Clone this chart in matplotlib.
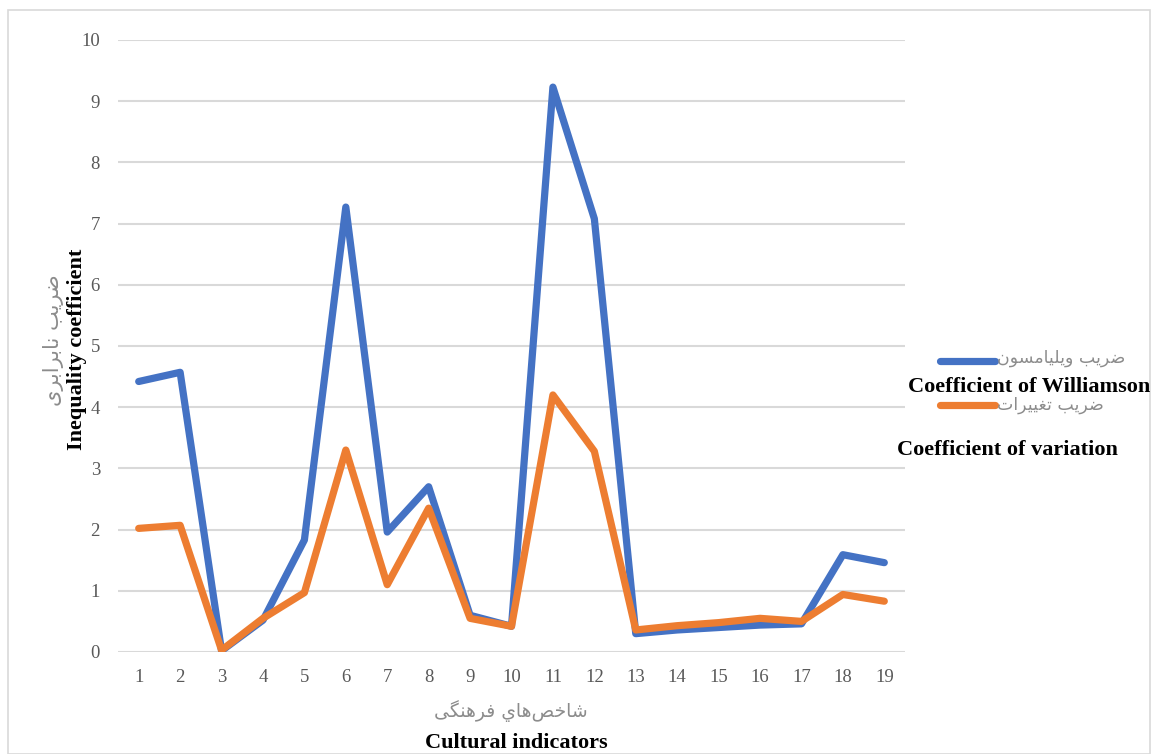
import numpy as np
import matplotlib
matplotlib.use("Agg")
import matplotlib.pyplot as plt
from matplotlib.lines import Line2D
from matplotlib.patches import Rectangle

# data
indicators = list(range(1, 20))
williamson = [4.42, 4.57, 0.02, 0.52, 1.83, 7.27, 1.96, 2.70, 0.60, 0.42,
              9.23, 7.08, 0.30, 0.36, 0.40, 0.44, 0.46, 1.59, 1.46]
variation = [2.02, 2.07, 0.03, 0.55, 0.97, 3.30, 1.10, 2.35, 0.55, 0.42,
             4.20, 3.28, 0.36, 0.43, 0.48, 0.55, 0.50, 0.94, 0.83]

label_williamson_fa = "ضریب ویلیامسون"
label_variation_fa = "ضریب تغییرات"
ylabel_fa = "ضریب نابرابری"
xlabel_fa = "شاخص\u200cهاي فرهنگی"

# minimal Persian shaping (matplotlib does no Arabic joining)
FORMS = {
    "ا": (0xFE8D, 0xFE8E), "ر": (0xFEAD, 0xFEAE), "و": (0xFEED, 0xFEEE),
    "ب": (0xFE8F, 0xFE90, 0xFE91, 0xFE92), "ت": (0xFE95, 0xFE96, 0xFE97, 0xFE98),
    "خ": (0xFEA5, 0xFEA6, 0xFEA7, 0xFEA8), "س": (0xFEB1, 0xFEB2, 0xFEB3, 0xFEB4),
    "ش": (0xFEB5, 0xFEB6, 0xFEB7, 0xFEB8), "ص": (0xFEB9, 0xFEBA, 0xFEBB, 0xFEBC),
    "ض": (0xFEBD, 0xFEBE, 0xFEBF, 0xFEC0), "غ": (0xFECD, 0xFECE, 0xFECF, 0xFED0),
    "ف": (0xFED1, 0xFED2, 0xFED3, 0xFED4), "ل": (0xFEDD, 0xFEDE, 0xFEDF, 0xFEE0),
    "م": (0xFEE1, 0xFEE2, 0xFEE3, 0xFEE4), "ن": (0xFEE5, 0xFEE6, 0xFEE7, 0xFEE8),
    "ه": (0xFEE9, 0xFEEA, 0xFEEB, 0xFEEC), "ي": (0xFEF1, 0xFEF2, 0xFEF3, 0xFEF4),
    "ی": (0xFBFC, 0xFBFD, 0xFBFE, 0xFBFF), "گ": (0xFB92, 0xFB93, 0xFB94, 0xFB95),
}


def shape_fa(text):
    out = []
    for i, ch in enumerate(text):
        f = FORMS.get(ch)
        if f is None:
            if ch != "\u200c":
                out.append(ch)
            continue
        prev = text[i - 1] if i > 0 else ""
        nxt = text[i + 1] if i + 1 < len(text) else ""
        jp = prev in FORMS and len(FORMS[prev]) == 4
        jn = len(f) == 4 and nxt in FORMS
        idx = 3 if (jp and jn) else 1 if jp else 2 if jn else 0
        out.append(chr(f[idx]))
    return "".join(out)[::-1]


blue = "#4472C4"
orange = "#ED7D31"
grey_txt = "#595959"
fa_col = "#8c8c8c"
serif = "Liberation Serif"

fig = plt.figure(figsize=(11.55, 7.54), dpi=100)
fig.patch.set_facecolor("white")
fig.add_artist(Rectangle((8 / 1155, 0.0), 1142 / 1155, 744 / 754, transform=fig.transFigure,
                         fill=False, edgecolor="#d9d9d9", linewidth=1.2))

ax = fig.add_axes([118 / 1155, 1 - 652 / 754, 787 / 1155, 612 / 754])
ax.plot(indicators, williamson, color=blue, linewidth=5.2,
        solid_joinstyle="round", solid_capstyle="round")
ax.plot(indicators, variation, color=orange, linewidth=5.2,
        solid_joinstyle="round", solid_capstyle="round")

ax.set_xlim(0.5, 19.5)
ax.set_ylim(0, 10)
ax.set_yticks(range(0, 11))
ax.set_xticks(indicators)
ax.grid(axis="y", color="#d9d9d9", linewidth=1.5)
ax.set_axisbelow(True)
for s in ax.spines.values():
    s.set_visible(False)
ax.tick_params(length=0, labelsize=13.5, labelcolor=grey_txt)
ax.tick_params(axis="y", pad=13)
ax.tick_params(axis="x", pad=12)
for lab in ax.get_xticklabels() + ax.get_yticklabels():
    lab.set_fontfamily(serif)

# axis titles
fig.text(54 / 1155, 1 - 340 / 754, shape_fa(ylabel_fa), rotation=90, color=fa_col,
         fontsize=15, family="DejaVu Sans", ha="center", va="center")
fig.text(77 / 1155, 1 - 349 / 754, "Inequality coefficient", rotation=90, color="black",
         fontsize=16, family=serif, weight="bold", ha="center", va="center")
fig.text(511 / 1155, 1 - 711 / 754, shape_fa(xlabel_fa), color=fa_col,
         fontsize=13.5, family="DejaVu Sans", ha="center", va="center")
fig.text(516 / 1155, 1 - 743 / 754, "Cultural indicators", color="black",
         fontsize=16, family=serif, weight="bold", ha="center", va="center")

# legend, laid out as in the source
fig.add_artist(Line2D([940 / 1155, 995 / 1155], [1 - 361 / 754] * 2, transform=fig.transFigure,
                      color=blue, linewidth=5.2, solid_capstyle="round"))
fig.text(997 / 1155, 1 - 358 / 754, shape_fa(label_williamson_fa), color=fa_col,
         fontsize=12.5, family="DejaVu Sans", ha="left", va="center")
fig.text(1029 / 1155, 1 - 387 / 754, "Coefficient of Williamson", color="black",
         fontsize=16, family=serif, weight="bold", ha="center", va="center")
fig.add_artist(Line2D([940 / 1155, 995 / 1155], [1 - 405 / 754] * 2, transform=fig.transFigure,
                      color=orange, linewidth=5.2, solid_capstyle="round"))
fig.text(997 / 1155, 1 - 405 / 754, shape_fa(label_variation_fa), color=fa_col,
         fontsize=12.5, family="DejaVu Sans", ha="left", va="center")
fig.text(1007 / 1155, 1 - 450 / 754, "Coefficient of variation", color="black",
         fontsize=16, family=serif, weight="bold", ha="center", va="center")

fig.savefig("out.png", dpi=100)
